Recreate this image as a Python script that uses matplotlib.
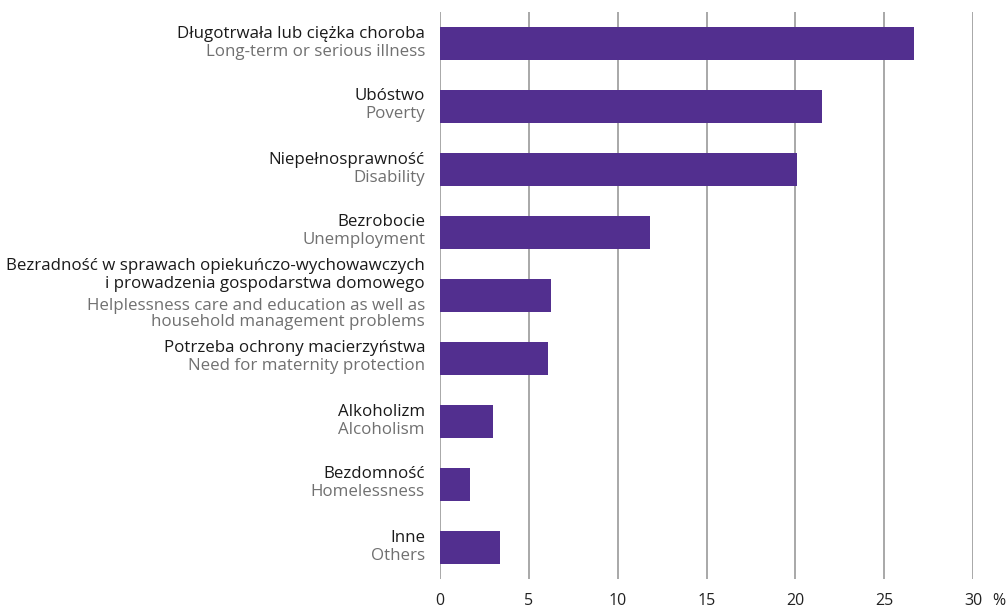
import matplotlib.pyplot as plt

# reasons for receiving social assistance, % of households
labels_pl = ['Długotrwała lub ciężka choroba', 'Ubóstwo', 'Niepełnosprawność', 'Bezrobocie',
             'Bezradność w sprawach opiekuńczo-wychowawczych\ni prowadzenia gospodarstwa domowego',
             'Potrzeba ochrony macierzyństwa', 'Alkoholizm', 'Bezdomność', 'Inne']
labels_en = ['Long-term or serious illness', 'Poverty', 'Disability', 'Unemployment',
             'Helplessness care and education as well as\nhousehold management problems',
             'Need for maternity protection', 'Alcoholism', 'Homelessness', 'Others']
values = [26.7, 21.5, 20.1, 11.8, 6.25, 6.1, 3.0, 1.7, 3.4]
xticks = [0, 5, 10, 15, 20, 25, 30]

plt.rcParams['font.family'] = ['Open Sans', 'DejaVu Sans']

fig = plt.figure(figsize=(10.08, 6.08), dpi=100)
ax = fig.add_axes([440/1008, 1 - 579/608, 533/1008, 567/608])

pos = list(range(len(values)))
ax.barh(pos, values, height=0.51, color='#522f8f', zorder=3)
ax.set_xlim(0, 30)
ax.set_ylim(8.5, -0.5)
ax.set_yticks([])
ax.set_xticks(xticks)
ax.set_xticklabels([str(t) for t in xticks], fontsize=11.5, color='#222222')
ax.tick_params(axis='x', length=0, pad=10)
ax.grid(axis='x', color='#9a9a9a', linewidth=1.2, zorder=0)
for s in ax.spines.values():
    s.set_visible(False)

ax.annotate('%', xy=(30, 8.5), xycoords='data', xytext=(26, -14),
            textcoords='offset pixels', ha='center', va='top', fontsize=11.5, color='#222222')

fs = 12.2
step = 17
for i in pos:
    pl = labels_pl[i].split('\n')
    en = labels_en[i].split('\n')
    for k, line in enumerate(pl):
        dy = 6 + step * (len(pl) - 1 - k) + (2 if len(pl) > 1 else 0)
        ax.annotate(line, xy=(0, i), xycoords='data', xytext=(-15, dy),
                    textcoords='offset pixels', ha='right', va='baseline',
                    fontsize=fs, color='#1a1a1a')
    for k, line in enumerate(en):
        dy = -12 - step * k - (2 if len(en) > 1 else 0)
        ax.annotate(line, xy=(0, i), xycoords='data', xytext=(-15, dy),
                    textcoords='offset pixels', ha='right', va='baseline',
                    fontsize=fs, color='#707070')

plt.savefig('out.png')
